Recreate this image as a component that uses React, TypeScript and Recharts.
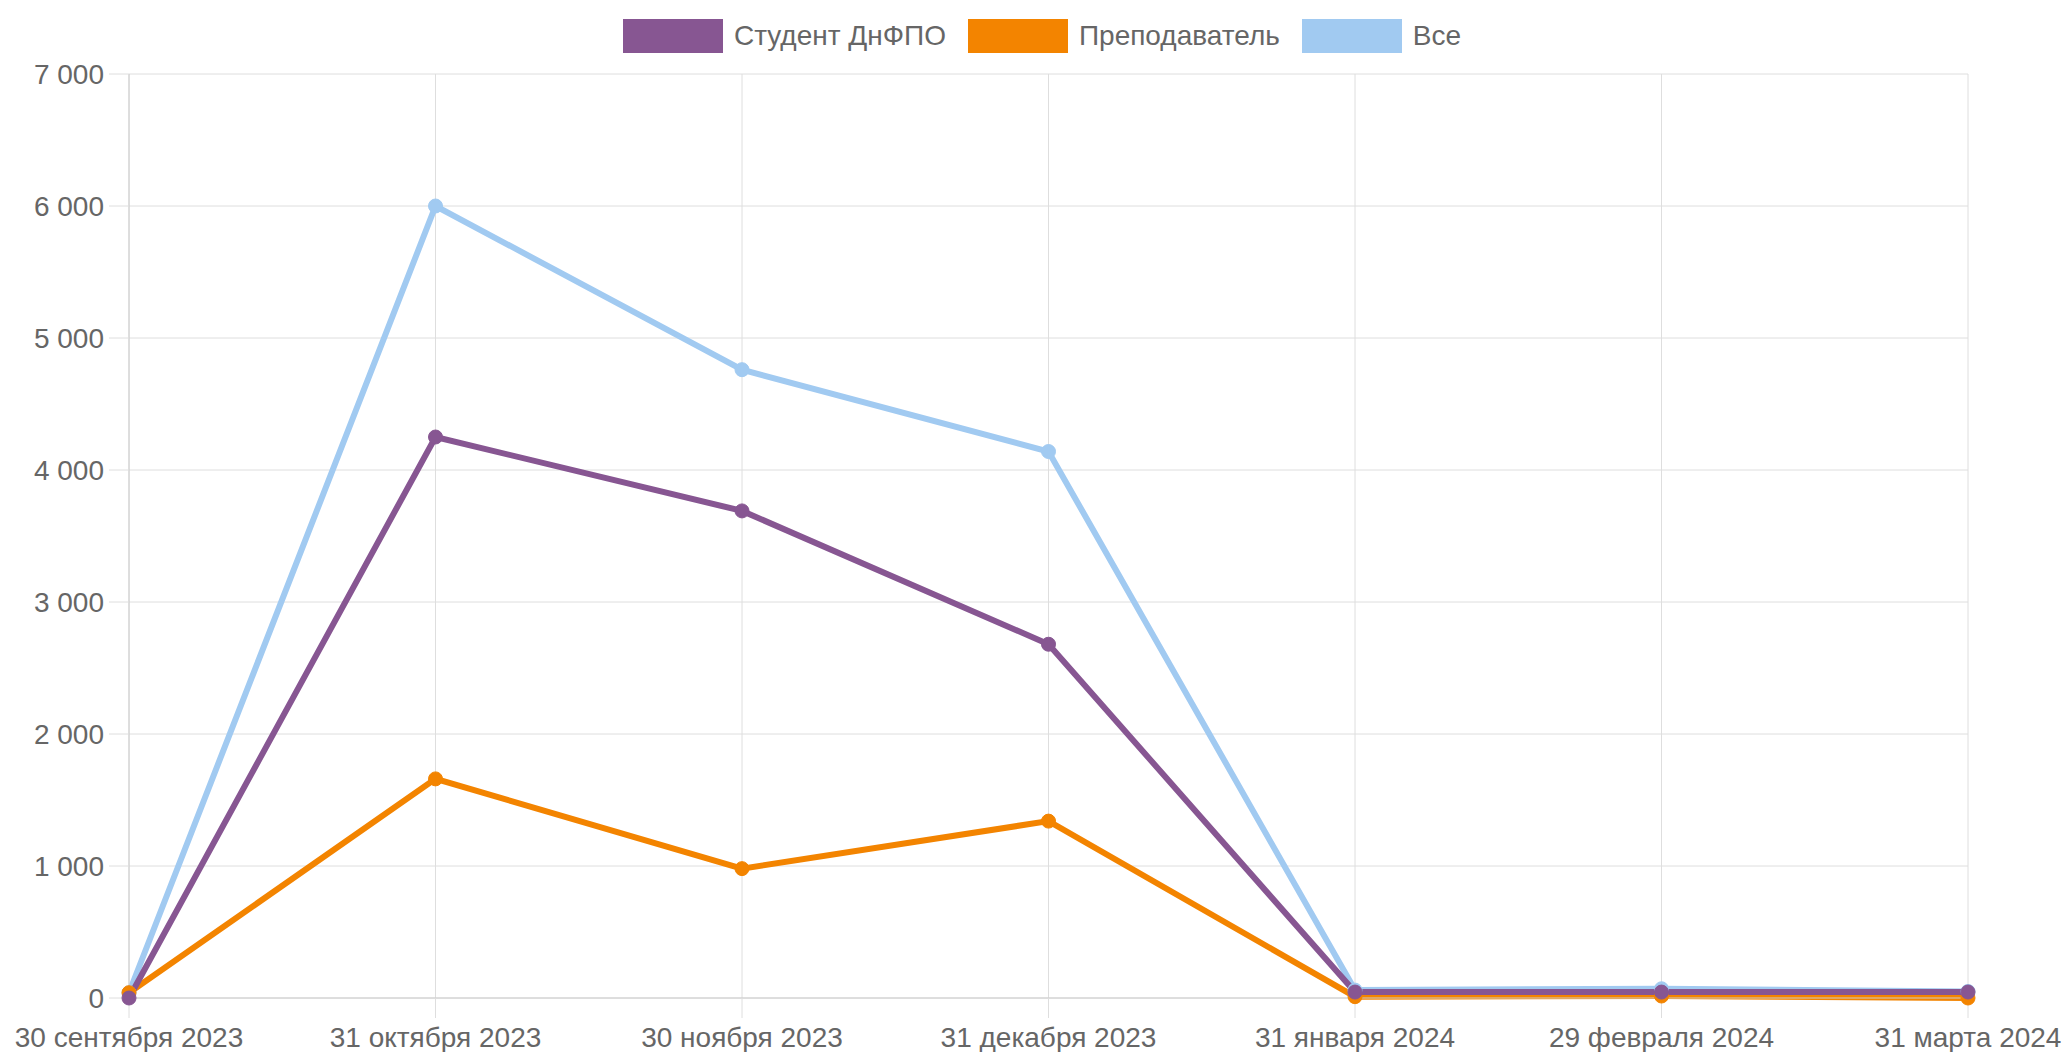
import { CartesianGrid, Legend, Line, LineChart, XAxis, YAxis } from "recharts";

const months = [
	"30 сентября 2023",
	"31 октября 2023",
	"30 ноября 2023",
	"31 декабря 2023",
	"31 января 2024",
	"29 февраля 2024",
	"31 марта 2024",
];

const studentValues = [0, 4250, 3690, 2680, 45, 45, 45];
const teacherValues = [40, 1660, 980, 1340, 10, 15, 0];
const allValues = [40, 6000, 4760, 4140, 60, 70, 50];

const yTicks = [0, 1000, 2000, 3000, 4000, 5000, 6000, 7000];

const series = [
	{ key: "student", name: "Студент ДнФПО", color: "#875692" },
	{ key: "teacher", name: "Преподаватель", color: "#F38400" },
	{ key: "all", name: "Все", color: "#A1CAF1" },
];

const data = months.map((month, i) => ({
	month,
	student: studentValues[i],
	teacher: teacherValues[i],
	all: allValues[i],
}));

const font = '"Liberation Sans", Arial, sans-serif';
const gridColor = "#dedede";
const axisColor = "#cccccc";

const formatThousands = (v: number) =>
	String(v).replace(/\B(?=(\d{3})+(?!\d))/g, " ");

const LegendContent = () => (
	<div
		style={{
			display: "flex",
			justifyContent: "center",
			alignItems: "center",
			height: 72,
			paddingLeft: 39,
			fontFamily: font,
			fontSize: 28,
			color: "#666",
		}}
	>
		{series.map((s) => (
			<div
				key={s.key}
				style={{ display: "flex", alignItems: "center", marginRight: 22 }}
			>
				<span
					style={{
						display: "inline-block",
						width: 100,
						height: 34,
						background: s.color,
						marginRight: 11,
					}}
				/>
				<span>{s.name}</span>
			</div>
		))}
	</div>
);

export default function App() {
	// draw order: last legend item first, so the first one sits on top
	const drawOrder = [...series].reverse();
	return (
		<div style={{ position: "absolute", left: 0, top: 0, background: "#fff" }}>
			<LineChart
				width={2067}
				height={1052}
				data={data}
				margin={{ top: 2, right: 99, bottom: 0, left: 0 }}
			>
				<CartesianGrid stroke={gridColor} />
				<XAxis
					dataKey="month"
					interval={0}
					height={54}
					tickSize={20}
					tickMargin={9}
					axisLine={{ stroke: axisColor }}
					tickLine={{ stroke: gridColor }}
					tick={{ fill: "#666", fontSize: 28, fontFamily: font }}
				/>
				<YAxis
					width={129}
					domain={[0, 7000]}
					ticks={yTicks}
					tickFormatter={formatThousands}
					tickSize={20}
					tickMargin={5}
					axisLine={{ stroke: axisColor }}
					tickLine={{ stroke: gridColor }}
					tick={{ fill: "#666", fontSize: 28, fontFamily: font }}
				/>
				<Legend
					verticalAlign="top"
					content={<LegendContent />}
					wrapperStyle={{ top: 0, left: 0, width: 2067 }}
				/>
				{drawOrder.map((s) => (
					<Line
						key={s.key}
						type="linear"
						dataKey={s.key}
						name={s.name}
						stroke={s.color}
						strokeWidth={6}
						dot={{ r: 7, fill: s.color, stroke: s.color, strokeWidth: 1 }}
						activeDot={false}
						isAnimationActive={false}
					/>
				))}
			</LineChart>
		</div>
	);
}
